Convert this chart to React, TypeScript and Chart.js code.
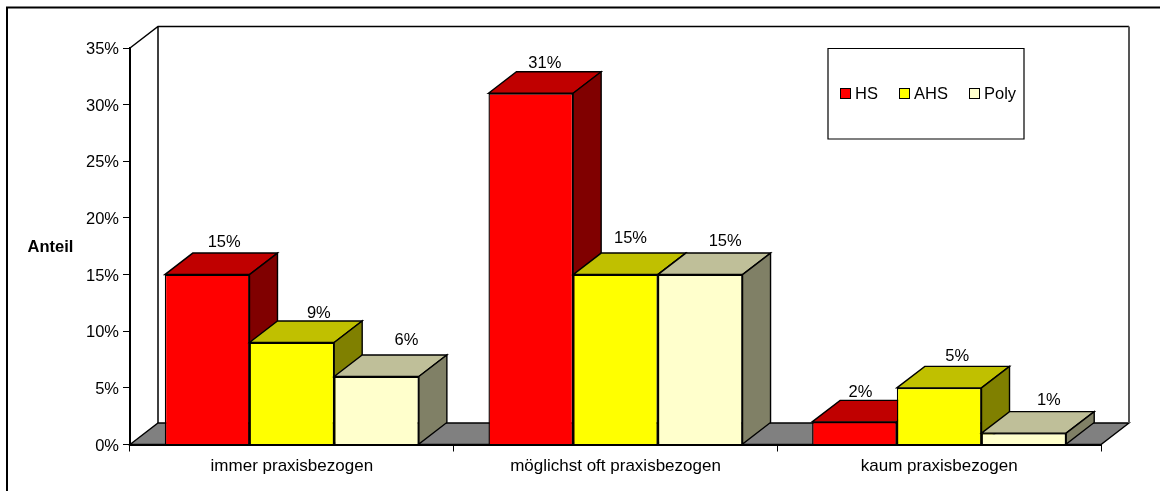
import React, { useEffect, useRef } from "react";
import { Chart, registerables } from "chart.js";

Chart.register(...registerables);

const categories = ["immer praxisbezogen", "möglichst oft praxisbezogen", "kaum praxisbezogen"];
const seriesHS = [15, 31, 2];
const seriesAHS = [9, 15, 5];
const seriesPoly = [6, 15, 1];
const yTicks = [0, 5, 10, 15, 20, 25, 30, 35];

const FONT = '"Liberation Sans", Arial, sans-serif';
const SIZE = 16.5;
const DX = 28;
const DY = 21.5;

const shades: Record<string, { top: string; side: string }> = {
  HS: { top: "#C00000", side: "#800000" },
  AHS: { top: "#C0C000", side: "#808000" },
  Poly: { top: "#BFBF99", side: "#808066" },
};
// The reference's value labels were placed by hand: [dx, dy] from the default spot.
const labelNudges: Record<string, number[][]> = {
  HS: [[3, 0], [0, 3], [-8, 3]],
  AHS: [[13, 3], [1, -4], [4, 1]],
  Poly: [[16, -4], [11, -1], [11, 0]],
};

function poly(ctx: CanvasRenderingContext2D, pts: number[][], fill: string | null, stroke = "#000", lw = 1.4) {
  ctx.beginPath();
  pts.forEach(([x, y], i) => (i ? ctx.lineTo(x, y) : ctx.moveTo(x, y)));
  ctx.closePath();
  if (fill) {
    ctx.fillStyle = fill;
    ctx.fill();
  }
  if (stroke) {
    ctx.strokeStyle = stroke;
    ctx.lineWidth = lw;
    ctx.stroke();
  }
}

const threeD = {
  id: "threeD",
  beforeDatasetsDraw(chart: any) {
    const { ctx, chartArea: a } = chart;
    ctx.save();
    ctx.strokeStyle = "#000";
    ctx.lineWidth = 2;
    ctx.beginPath();
    ctx.moveTo(7, 491);
    ctx.lineTo(7, 7.5);
    ctx.lineTo(1160, 7.5);
    ctx.stroke();
    poly(
      ctx,
      [
        [a.left, a.bottom],
        [a.left + DX, a.bottom - DY],
        [a.right + DX, a.bottom - DY],
        [a.right, a.bottom],
      ],
      "#808080",
      "#000",
      1.4
    );
    ctx.lineWidth = 1.5;
    ctx.strokeStyle = "#000";
    ctx.beginPath();
    ctx.moveTo(a.left, a.top);
    ctx.lineTo(a.left + DX, a.top - DY);
    ctx.lineTo(a.right + DX, a.top - DY);
    ctx.moveTo(a.left + DX, a.top - DY);
    ctx.lineTo(a.left + DX, a.bottom - DY);
    ctx.stroke();
    ctx.strokeStyle = "#555";
    ctx.lineWidth = 2;
    ctx.beginPath();
    ctx.moveTo(a.right + DX, a.top - DY);
    ctx.lineTo(a.right + DX, a.bottom - DY);
    ctx.stroke();
    ctx.restore();
  },
  // The bars are painted left to right in afterDatasetsDraw, so that each
  // bar's front covers the side of its left neighbour.
  beforeDatasetDraw() {
    return false;
  },
  afterDatasetsDraw(chart: any) {
    const { ctx, chartArea: a } = chart;
    chart.data.datasets.forEach((ds: any, i: number) => {
      const meta = chart.getDatasetMeta(i);
      const s = shades[ds.label];
      ctx.save();
      meta.data.forEach((b: any) => {
        const { x, y, base, width } = b.getProps(["x", "y", "base", "width"], true);
        const l = x - width / 2;
        const r = x + width / 2;
        poly(ctx, [[l, y], [l + DX, y - DY], [r + DX, y - DY], [r, y]], s.top);
        poly(ctx, [[r, y], [r + DX, y - DY], [r + DX, base - DY], [r, base]], s.side);
      });
      ctx.restore();
      meta.controller.draw();
    });
    ctx.save();
    ctx.fillStyle = "#000";
    ctx.font = `${SIZE}px ${FONT}`;
    ctx.textAlign = "center";
    ctx.textBaseline = "middle";
    chart.data.datasets.forEach((ds: any, i: number) => {
      chart.getDatasetMeta(i).data.forEach((b: any, j: number) => {
        const { x, y } = b.getProps(["x", "y"], true);
        const [nx, ny] = labelNudges[ds.label][j];
        ctx.fillText(`${ds.data[j]}%`, x + DX / 2 + nx, y - DY - 11 + ny);
      });
    });
    ctx.font = `bold ${SIZE}px ${FONT}`;
    ctx.fillText("Anteil", 50.5, (a.top + a.bottom) / 2 + 1);
    poly(ctx, [[828, 48.5], [1024, 48.5], [1024, 139], [828, 139]], "#fff", "#000", 1.2);
    const swatchX = [840, 899, 969];
    ctx.font = `${SIZE}px ${FONT}`;
    ctx.textAlign = "left";
    chart.data.datasets.forEach((ds: any, i: number) => {
      ctx.fillStyle = ds.backgroundColor;
      ctx.fillRect(swatchX[i] + 0.5, 88.5, 10, 10);
      ctx.strokeStyle = "#000";
      ctx.lineWidth = 1;
      ctx.strokeRect(swatchX[i] + 0.5, 88.5, 10, 10);
      ctx.fillStyle = "#000";
      ctx.fillText(ds.label, swatchX[i] + 15, 94);
    });
    ctx.restore();
  },
};

export default function App() {
  const ref = useRef<HTMLCanvasElement>(null);
  useEffect(() => {
    const mk = (label: string, data: number[], color: string) => ({
      label,
      data,
      backgroundColor: color,
      borderColor: "#000",
      borderWidth: 1.4,
      categoryPercentage: 0.785,
      barPercentage: 1,
    });
    const chart = new Chart(ref.current!, {
      type: "bar",
      data: {
        labels: categories,
        datasets: [
          mk("HS", seriesHS, "#FF0000"),
          mk("AHS", seriesAHS, "#FFFF00"),
          mk("Poly", seriesPoly, "#FFFFCC"),
        ],
      },
      plugins: [threeD],
      options: {
        animation: false,
        responsive: false,
        layout: { padding: { left: 0, right: 59, top: 48, bottom: 0 } },
        plugins: { legend: { display: false }, tooltip: { enabled: false } },
        scales: {
          x: {
            afterFit(scale: any) {
              scale.height = 46.5;
            },
            grid: { drawOnChartArea: false, drawTicks: true, tickLength: 7, color: "#000", offset: true },
            border: { color: "#000", width: 2 },
            ticks: { color: "#000", font: { family: FONT, size: 17 }, padding: 5, maxRotation: 0 },
          },
          y: {
            min: 0,
            max: 35,
            afterFit(scale: any) {
              scale.width = 130;
            },
            afterBuildTicks(scale: any) {
              scale.ticks = yTicks.map((value) => ({ value }));
            },
            grid: { drawOnChartArea: false, drawTicks: true, tickLength: 7, color: "#000" },
            border: { color: "#000", width: 2 },
            ticks: {
              color: "#000",
              font: { family: FONT, size: SIZE },
              padding: 4,
              labelOffset: 1.5,
              callback: (v: any) => `${v}%`,
            },
          },
        },
      },
    } as any);
    return () => chart.destroy();
  }, []);
  return (
    <div style={{ position: "fixed", left: 0, top: 0, width: 1160, height: 491 }}>
      <canvas ref={ref} width={1160} height={491} style={{ display: "block" }} />
    </div>
  );
}
